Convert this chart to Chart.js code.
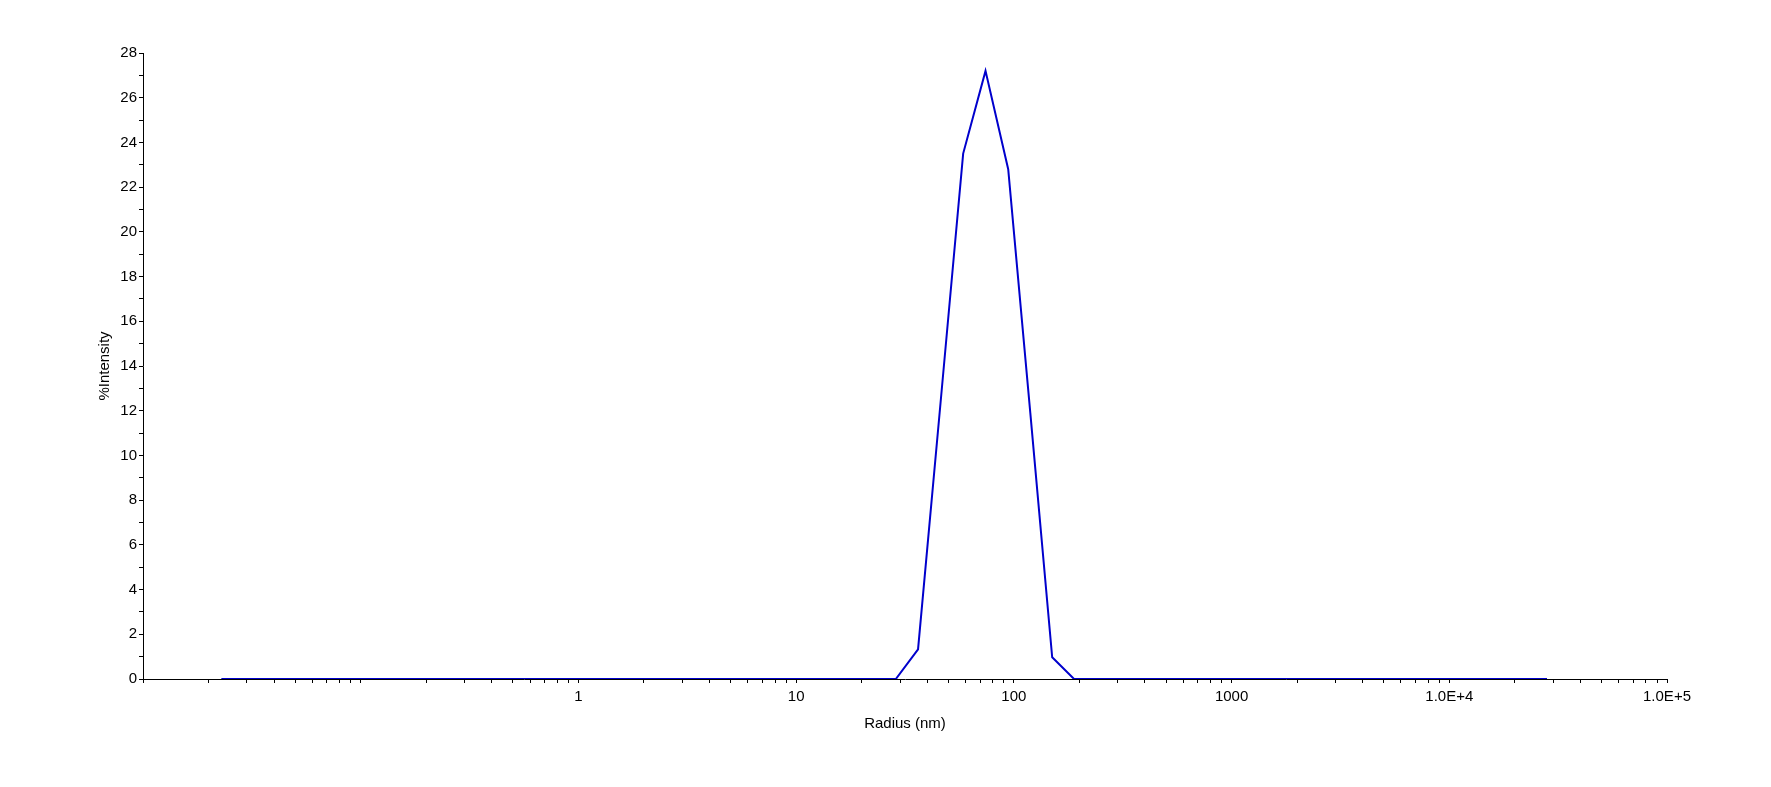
<!DOCTYPE html>
<html>
<head>
<meta charset="utf-8">
<script src="https://cdn.jsdelivr.net/npm/chart.js@4"></script>
<style>
  body { margin: 0; background: #fff; }
  #wrap { width: 1771px; height: 787px; }
</style>
</head>
<body>
<div id="wrap"><canvas id="chart"></canvas></div>
<script>
// size distribution
const radius = [0.0229, 28.7, 36.3, 46.0, 58.5, 74.1, 94.2, 119, 150, 189, 28100];
const intensity = [0, 0, 1.33, 12.3, 23.5, 27.2, 22.8, 11.9, 0.97, 0, 0];

const xDecades = [0.01, 0.1, 1, 10, 100, 1000, 10000, 100000];
const xLabels = ['', '', '1', '10', '100', '1000', '1.0E+4', '1.0E+5'];
const yMax = 28;

const points = radius.map((r, i) => ({ x: r, y: intensity[i] }));
const labelFont = { family: 'Liberation Sans', size: 15 };

const ctx = document.getElementById('chart').getContext('2d');
const chart = new Chart(ctx, {
  type: 'line',
  data: {
    datasets: [{
      label: '%Intensity',
      data: points,
      borderColor: '#0000cc',
      borderWidth: 2,
      pointRadius: 0,
      fill: false,
      tension: 0
    }]
  },
  options: {
    responsive: true,
    maintainAspectRatio: false,
    animation: false,
    layout: { padding: { top: 53, right: 104, left: 0, bottom: 0 } },
    plugins: {
      legend: { display: false },
      tooltip: { enabled: false }
    },
    scales: {
      x: {
        type: 'logarithmic',
        min: 0.01,
        max: 100000,
        afterBuildTicks: function(scale) {
          const ticks = [];
          xDecades.forEach(function(d, i) {
            ticks.push({ value: d, label: xLabels[i] });
            if (i < xDecades.length - 1) {
              for (let m = 2; m <= 9; m++) ticks.push({ value: d * m });
            }
          });
          scale.ticks = ticks;
        },
        afterFit: function(scale) { scale.height = 108; },
        ticks: {
          autoSkip: false,
          maxRotation: 0,
          padding: 5,
          color: '#000',
          font: labelFont,
          callback: function(value) {
            const i = xDecades.indexOf(value);
            return i >= 0 ? xLabels[i] : '';
          }
        },
        grid: { drawOnChartArea: false, tickLength: 4, tickColor: '#000' },
        border: { display: true, color: '#000', width: 1 },
        title: {
          display: true,
          text: 'Radius (nm)',
          color: '#000',
          font: labelFont,
          padding: { top: 4, bottom: 54 }
        }
      },
      y: {
        min: 0,
        max: yMax,
        afterFit: function(scale) { scale.width = 143; },
        ticks: {
          stepSize: 1,
          autoSkip: false,
          padding: 2,
          color: '#000',
          font: labelFont,
          callback: function(value) { return value % 2 === 0 ? value : ''; }
        },
        grid: { drawOnChartArea: false, tickLength: 4, tickColor: '#000' },
        border: { display: true, color: '#000', width: 1 },
        title: {
          display: true,
          text: '%Intensity',
          color: '#000',
          font: labelFont,
          padding: { top: 96, bottom: 0 }
        }
      }
    }
  }
});
</script>
</body>
</html>
